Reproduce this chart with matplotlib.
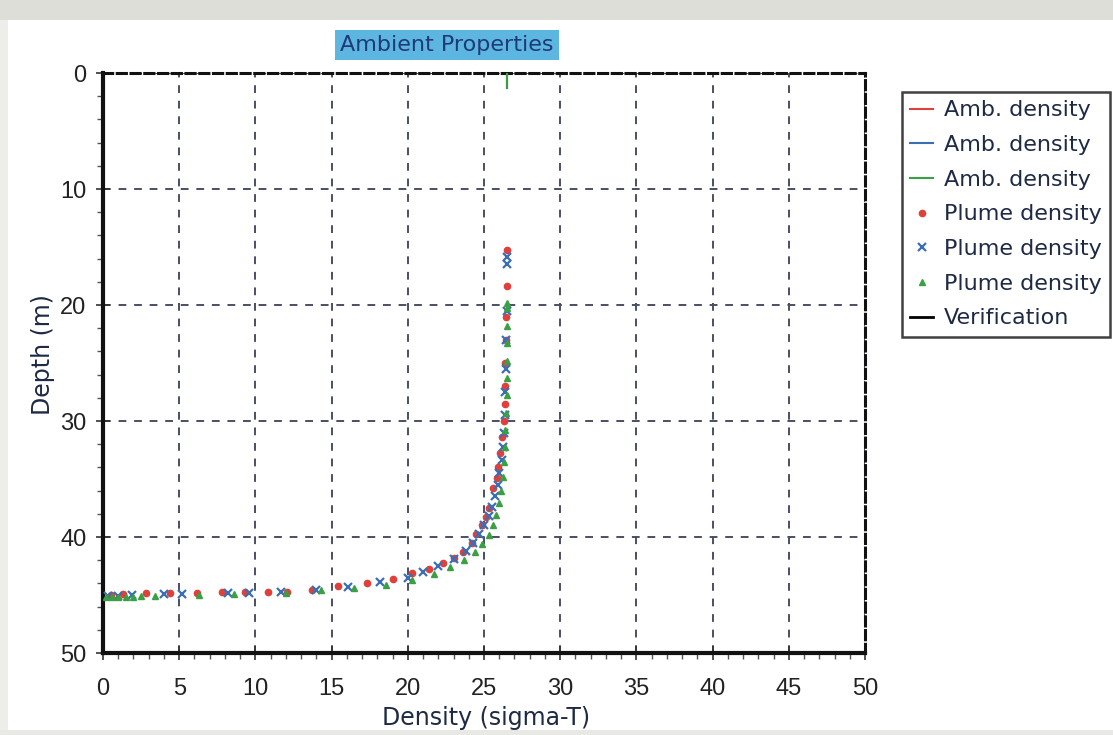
import matplotlib
matplotlib.use("Agg")
import matplotlib.pyplot as plt
from matplotlib.patches import Rectangle
from matplotlib.ticker import MultipleLocator

# Ambient density profiles (sigma-T vs depth)
amb_density = [26.5, 26.5]
amb_depth = [0.0, 1.3]

# Plume density trajectories
plume1_density = [0.5, 1.3, 2.8, 4.4, 6.2, 7.8, 9.3, 10.8, 12.1, 13.7, 15.4, 17.3, 19.0,
                  20.3, 21.4, 22.3, 23.0, 23.6, 24.2, 24.5, 24.9, 25.1, 25.3, 25.6, 25.85,
                  25.9, 26.05, 26.2, 26.3, 26.35, 26.4, 26.4, 26.45, 26.45, 26.5, 26.5]
plume1_depth = [45.0, 44.95, 44.8, 44.8, 44.8, 44.7, 44.7, 44.7, 44.7, 44.6, 44.2, 44.0,
                43.6, 43.1, 42.8, 42.2, 41.8, 41.3, 40.5, 39.7, 39.0, 38.3, 37.5, 35.8,
                34.9, 34.0, 32.8, 31.4, 30.0, 28.5, 27.0, 25.0, 23.0, 21.0, 18.4, 15.3]

plume2_density = [0.3, 1.0, 1.9, 4.0, 5.2, 8.2, 9.6, 11.7, 14.0, 16.1, 18.2, 20.0, 21.0,
                  22.0, 23.0, 23.8, 24.3, 24.7, 25.0, 25.3, 25.5, 25.7, 25.9, 26.0, 26.15,
                  26.25, 26.3, 26.35, 26.4, 26.45, 26.45, 26.5, 26.5, 26.5]
plume2_depth = [45.1, 45.05, 45.0, 44.95, 44.9, 44.85, 44.8, 44.75, 44.6, 44.3, 43.9, 43.5,
                43.0, 42.5, 41.9, 41.2, 40.5, 39.7, 39.0, 38.2, 37.4, 36.5, 35.5, 34.5,
                33.4, 32.2, 31.0, 29.5, 27.5, 25.5, 23.0, 20.5, 16.5, 15.9]

plume3_density = [0.2, 0.6, 1.0, 1.5, 2.0, 2.5, 3.4, 6.3, 8.6, 12.0, 14.3, 16.5, 18.6,
                  20.3, 21.7, 22.8, 23.7, 24.4, 24.9, 25.3, 25.6, 25.8, 26.0, 26.1, 26.25,
                  26.3, 26.35, 26.4, 26.45, 26.5, 26.5, 26.5, 26.5, 26.5, 26.5, 26.5]
plume3_depth = [45.2, 45.2, 45.2, 45.15, 45.15, 45.1, 45.1, 45.0, 44.9, 44.8, 44.6, 44.4,
                44.1, 43.7, 43.2, 42.6, 42.0, 41.3, 40.6, 39.8, 39.0, 38.1, 37.1, 36.0,
                34.8, 33.5, 32.2, 30.8, 29.3, 27.8, 26.3, 24.8, 23.3, 21.8, 20.3, 19.8]

x_ticks = [0, 5, 10, 15, 20, 25, 30, 35, 40, 45, 50]
y_ticks = [0, 10, 20, 30, 40, 50]

RED = "#e0403a"
BLUE = "#3a6fb5"
GREEN = "#3aa043"

W, H = 1113, 735
fig = plt.figure(figsize=(W / 100, H / 100), dpi=100)
fig.patch.set_facecolor("white")

# window chrome: grey strip at top, thin edges
fig.patches.append(Rectangle((0, 1 - 20 / H), 1, 20 / H, transform=fig.transFigure,
                             facecolor="#deded9", edgecolor="none", zorder=0))
fig.patches.append(Rectangle((0, 0), 8 / W, 1 - 20 / H, transform=fig.transFigure,
                             facecolor="#ededea", edgecolor="none", zorder=0))
fig.patches.append(Rectangle((0, 0), 1, 5 / H, transform=fig.transFigure,
                             facecolor="#e8e8e5", edgecolor="none", zorder=0))

ax = fig.add_axes([103 / W, 1 - 653 / H, (865 - 103) / W, 580 / H])

ax.plot(amb_density, amb_depth, color=RED, lw=1.5, label="Amb. density", zorder=3)
ax.plot(amb_density, amb_depth, color=BLUE, lw=1.5, label="Amb. density", zorder=3)
ax.plot(amb_density, amb_depth, color=GREEN, lw=1.5, label="Amb. density", zorder=3)
ax.plot(plume1_density, plume1_depth, ls="none", marker="o", ms=4.5, color=RED,
        label="Plume density", zorder=4)
ax.plot(plume2_density, plume2_depth, ls="none", marker="x", ms=5.5, mew=1.6, color=BLUE,
        label="Plume density", zorder=4)
ax.plot(plume3_density, plume3_depth, ls="none", marker="^", ms=4.5, color=GREEN,
        label="Plume density", zorder=4)
ax.plot([], [], color="black", lw=2, label="Verification")

ax.set_xlim(0, 50)
ax.set_ylim(50, 0)
ax.set_xticks(x_ticks)
ax.set_yticks(y_ticks)
ax.xaxis.set_minor_locator(MultipleLocator(1))
ax.yaxis.set_minor_locator(MultipleLocator(2))

tick_font = dict(family=["Liberation Sans", "DejaVu Sans"], size=17)
ax.set_xticklabels([str(v) for v in x_ticks], fontdict=tick_font, color="#222222")
ax.set_yticklabels([str(v) for v in y_ticks], fontdict=tick_font, color="#222222")
ax.tick_params(which="major", direction="inout", length=10, width=1.2, color="#333333")
ax.tick_params(axis="x", which="major", pad=13)
ax.tick_params(axis="y", which="major", pad=7)
ax.tick_params(which="minor", direction="out", length=4, width=1, color="#555555")

ax.grid(True, which="major", color="#4a4f66", lw=1.4, ls=(0, (4, 4)))
ax.set_axisbelow(True)

for side in ("left", "bottom"):
    ax.spines[side].set_linewidth(3)
    ax.spines[side].set_color("#111111")
for side in ("top", "right"):
    ax.spines[side].set_linewidth(2.2)
    ax.spines[side].set_color("#111111")
    ax.spines[side].set_linestyle((0, (3, 1.5)))

ax.set_xlabel("Density (sigma-T)", fontsize=17, color="#1e2a44")
ax.xaxis.set_label_coords(0.503, -0.092)
ax.set_ylabel("Depth (m)", fontsize=17, color="#1e2a44")
ax.yaxis.set_label_coords(-0.063, 0.514)

fig.text(447 / W, 1 - 45 / H, "Ambient Properties", ha="center", va="center",
         fontsize=16, color="#1e3a78",
         bbox=dict(facecolor="#5cb6df", edgecolor="none", boxstyle="square,pad=0.22"))

leg = fig.legend(loc="upper left", bbox_to_anchor=(902 / W, 1 - 92 / H),
                 fontsize=16, frameon=True, fancybox=False, handlelength=1.0,
                 handletextpad=0.5, labelspacing=0.66, borderpad=0.38,
                 borderaxespad=0, markerscale=1.0)
leg.get_frame().set_edgecolor("#111111")
leg.get_frame().set_linewidth(1.8)
for t in leg.get_texts():
    t.set_color("#1e2a44")

fig.savefig("out.png", dpi=100)
